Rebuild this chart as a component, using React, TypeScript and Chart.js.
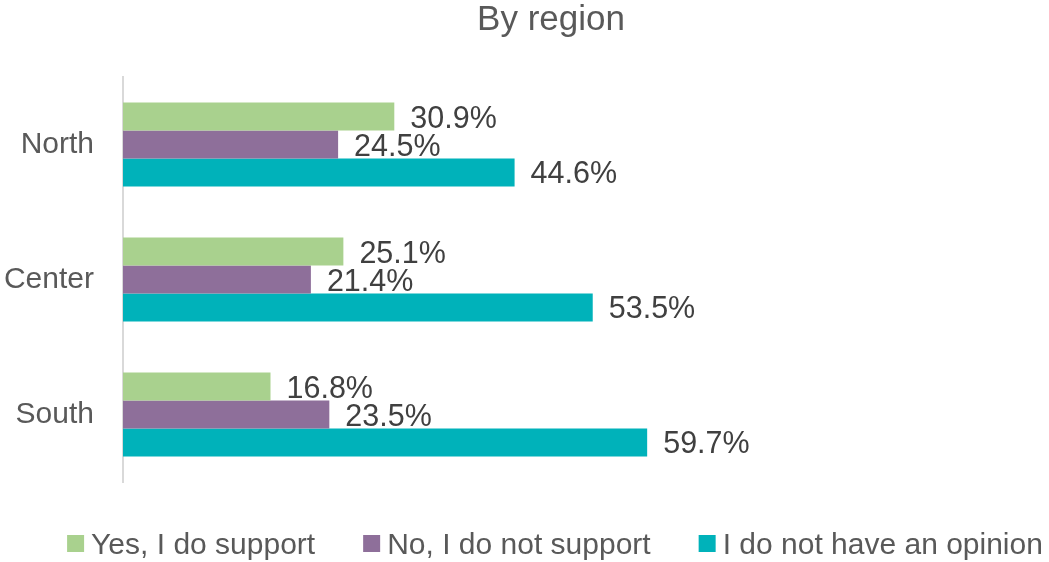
import React, { useEffect, useRef } from "react";
import { Chart, registerables } from "chart.js";

Chart.register(...registerables);

const categories = ["North", "Center", "South"];
const seriesNames = ["Yes, I do support", "No, I do not support", "I do not have an opinion"];
const yesSupport = [30.9, 25.1, 16.8];
const noSupport = [24.5, 21.4, 23.5];
const noOpinion = [44.6, 53.5, 59.7];
const seriesColors = ["#A9D18E", "#8E6F9A", "#00B2BA"];
const titleText = "By region";

const FONT = "'Liberation Sans', Arial, sans-serif";

const overlayPlugin = {
  id: "overlay",
  afterDatasetsDraw(chart: any) {
    const ctx = chart.ctx;
    const xScale = chart.scales.x;
    ctx.save();
    // data labels
    ctx.font = `30.5px ${FONT}`;
    ctx.fillStyle = "#404040";
    ctx.textAlign = "left";
    ctx.textBaseline = "alphabetic";
    chart.data.datasets.forEach((ds: any, di: number) => {
      const meta = chart.getDatasetMeta(di);
      meta.data.forEach((bar: any, i: number) => {
        const v = ds.data[i];
        const x = xScale.getPixelForValue(v) + 16;
        const y = bar.y + 11;
        ctx.fillText(v.toFixed(1) + "%", x, y);
      });
    });
    // title
    ctx.font = `35px ${FONT}`;
    ctx.fillStyle = "#595959";
    ctx.textAlign = "center";
    ctx.fillText(titleText, 551, 30);
    // legend
    ctx.font = `30px ${FONT}`;
    const box = 17;
    const gap = 7;
    const spacing = 48;
    const widths = chart.data.datasets.map((ds: any) => ctx.measureText(ds.label).width);
    const total = widths.reduce((a: number, w: number) => a + box + gap + w, 0) + spacing * (widths.length - 1);
    let x = 555 - total / 2;
    const baseline = chart.height - 8;
    ctx.textAlign = "left";
    chart.data.datasets.forEach((ds: any, di: number) => {
      ctx.fillStyle = ds.backgroundColor;
      ctx.fillRect(x, baseline - 19, box, box);
      ctx.fillStyle = "#595959";
      ctx.fillText(ds.label, x + box + gap, baseline);
      x += box + gap + widths[di] + spacing;
    });
    ctx.restore();
  },
};

export default function App() {
  const canvasRef = useRef<HTMLCanvasElement | null>(null);

  useEffect(() => {
    if (!canvasRef.current) return;
    const series = [yesSupport, noSupport, noOpinion];
    const chart = new Chart(canvasRef.current, {
      type: "bar",
      data: {
        labels: categories,
        datasets: series.map((d, i) => ({
          label: seriesNames[i],
          data: d,
          backgroundColor: seriesColors[i],
          borderWidth: 0,
          barPercentage: 1,
          categoryPercentage: 0.622,
        })),
      },
      options: {
        indexAxis: "y",
        animation: false,
        responsive: false,
        maintainAspectRatio: false,
        layout: { padding: { top: 77, bottom: 80, left: 0, right: 48 } },
        plugins: {
          legend: { display: false },
          title: { display: false },
          tooltip: { enabled: false },
        },
        scales: {
          x: { display: false, min: 0, max: 100 },
          y: {
            grid: { display: false, drawTicks: false },
            border: { display: true, color: "#D9D9D9", width: 2 },
            ticks: { font: { size: 30, family: FONT }, color: "#595959", padding: 29 },
            afterFit: (scale: any) => {
              scale.width = 123;
            },
          },
        },
      },
      plugins: [overlayPlugin],
    } as any);
    return () => chart.destroy();
  }, []);

  return (
    <div style={{ position: "absolute", left: 0, top: 0, width: 1049, height: 562, background: "#fff" }}>
      <canvas ref={canvasRef} width={1049} height={562} />
    </div>
  );
}
